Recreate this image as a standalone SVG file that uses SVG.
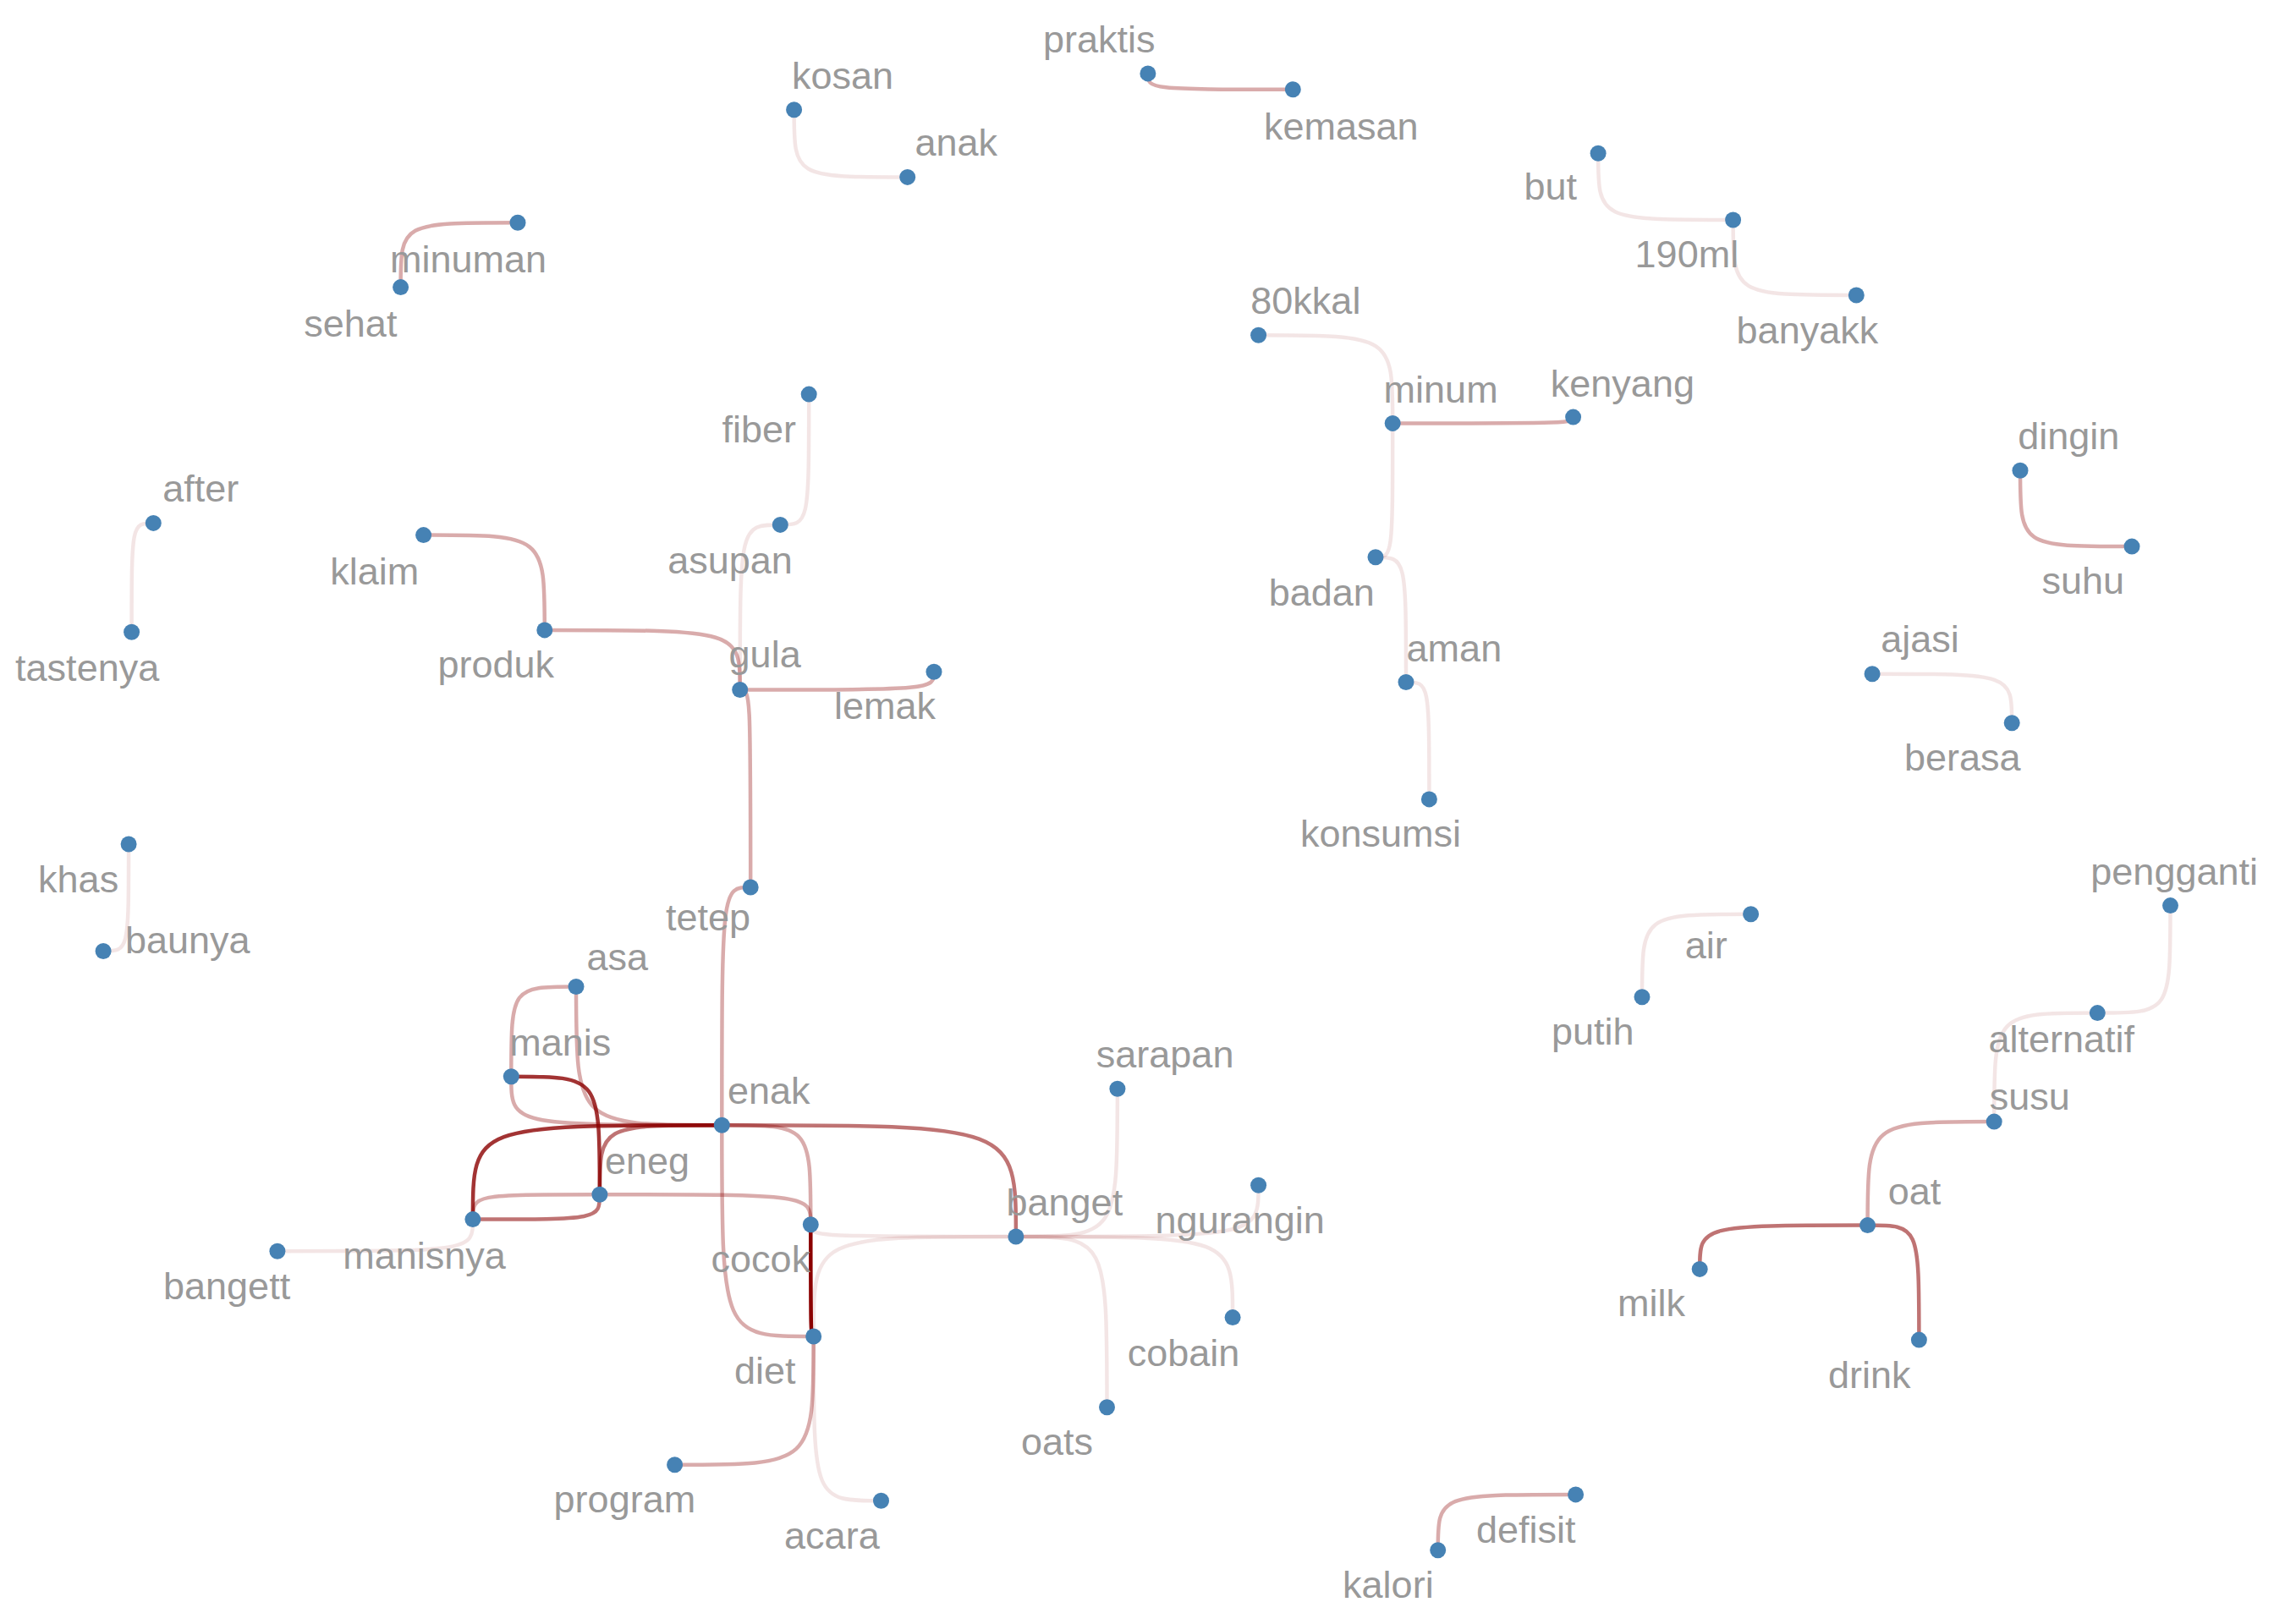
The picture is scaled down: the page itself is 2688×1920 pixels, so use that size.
<svg xmlns="http://www.w3.org/2000/svg" width="2688" height="1920" viewBox="0 0 2688 1920">
<style>
.e{fill:none;stroke:#8b0000;stroke-width:4.5;stroke-linecap:round}
.e1{stroke-opacity:0.1}
.e2{stroke-opacity:0.33}
.e3{stroke-opacity:0.55}
.e4{stroke-opacity:0.8}
.e5{stroke-opacity:1}
.n circle{fill:#4682b4}
.n text{font-family:"Liberation Sans",Arial,Helvetica,sans-serif;font-size:45px;fill:#999999}
</style>
<rect width="2688" height="1920" fill="#ffffff"/>
<g id="edges">
<path class="e e1" d="M938.6 129.8 C938.6 209.4 938.6 209.4 1072.7 209.4"/>
<path class="e e1" d="M1889.1 181.2 C1889.1 260 1889.1 260 2048.6 260"/>
<path class="e e1" d="M2048.6 260 C2048.6 349 2048.6 349 2194.3 349"/>
<path class="e e1" d="M1646.2 500.4 C1646.2 396.3 1646.2 396.3 1487.6 396.3"/>
<path class="e e1" d="M1646.2 500.4 C1646.2 658.8 1646.2 658.8 1626 658.8"/>
<path class="e e1" d="M1662 806.5 C1662 658.8 1662 658.8 1626 658.8"/>
<path class="e e1" d="M1689.4 944.9 C1689.4 806.5 1689.4 806.5 1662 806.5"/>
<path class="e e1" d="M2378.2 854.7 C2378.2 796.7 2378.2 796.7 2213.1 796.7"/>
<path class="e e1" d="M155.6 747.3 C155.6 618.4 155.6 618.4 181.3 618.4"/>
<path class="e e1" d="M956.2 466.1 C956.2 620.4 956.2 620.4 922.3 620.4"/>
<path class="e e1" d="M874.7 815.5 C874.7 620.4 874.7 620.4 922.3 620.4"/>
<path class="e e1" d="M152.1 998 C152.1 1124.5 152.1 1124.5 122.1 1124.5"/>
<path class="e e1" d="M958.3 1447.8 C958.3 1462 958.3 1462 1200.9 1462"/>
<path class="e e1" d="M1457.1 1557.6 C1457.1 1462 1457.1 1462 1200.9 1462"/>
<path class="e e1" d="M1487.6 1401.2 C1487.6 1462 1487.6 1462 1200.9 1462"/>
<path class="e e1" d="M1320.9 1287.3 C1320.9 1462 1320.9 1462 1200.9 1462"/>
<path class="e e1" d="M1308.5 1663.7 C1308.5 1462 1308.5 1462 1200.9 1462"/>
<path class="e e1" d="M961.7 1580 C961.7 1462 961.7 1462 1200.9 1462"/>
<path class="e e1" d="M961.7 1580 C961.7 1774.3 961.7 1774.3 1041.5 1774.3"/>
<path class="e e1" d="M558.9 1441.6 C558.9 1479.2 558.9 1479.2 327.9 1479.2"/>
<path class="e e1" d="M1941 1178.8 C1941 1080.8 1941 1080.8 2069.6 1080.8"/>
<path class="e e1" d="M2565.5 1070.6 C2565.5 1197.6 2565.5 1197.6 2479.3 1197.6"/>
<path class="e e1" d="M2357.2 1326.1 C2357.2 1197.6 2357.2 1197.6 2479.3 1197.6"/>
<path class="e e2" d="M473.6 339.6 C473.6 263.3 473.6 263.3 612 263.3"/>
<path class="e e2" d="M1356.9 86.9 C1356.9 105.7 1356.9 105.7 1528.3 105.7"/>
<path class="e e2" d="M1859.6 493.1 C1859.6 500.4 1859.6 500.4 1646.2 500.4"/>
<path class="e e2" d="M2388 556.3 C2388 646.1 2388 646.1 2520 646.1"/>
<path class="e e2" d="M643.8 744.9 C643.8 632.6 643.8 632.6 500.6 632.6"/>
<path class="e e2" d="M874.7 815.5 C874.7 744.9 874.7 744.9 643.8 744.9"/>
<path class="e e2" d="M1104 794.3 C1104 815.5 1104 815.5 874.7 815.5"/>
<path class="e e2" d="M887.2 1049 C887.2 815.5 887.2 815.5 874.7 815.5"/>
<path class="e e2" d="M853.3 1330.2 C853.3 1049 853.3 1049 887.2 1049"/>
<path class="e e2" d="M853.3 1330.2 C853.3 1580 853.3 1580 961.7 1580"/>
<path class="e e2" d="M604.3 1272.7 C604.3 1166.5 604.3 1166.5 681 1166.5"/>
<path class="e e2" d="M681 1166.5 C681 1330.2 681 1330.2 853.3 1330.2"/>
<path class="e e2" d="M604.3 1272.7 C604.3 1330.2 604.3 1330.2 853.3 1330.2"/>
<path class="e e2" d="M958.3 1447.8 C958.3 1412.2 958.3 1412.2 708.9 1412.2"/>
<path class="e e2" d="M558.9 1441.6 C558.9 1412.2 558.9 1412.2 708.9 1412.2"/>
<path class="e e2" d="M958.3 1447.8 C958.3 1330.2 958.3 1330.2 853.3 1330.2"/>
<path class="e e2" d="M961.7 1580 C961.7 1731.8 961.7 1731.8 797.6 1731.8"/>
<path class="e e2" d="M1699.7 1832.7 C1699.7 1766.9 1699.7 1766.9 1862.6 1766.9"/>
<path class="e e2" d="M2207.6 1448.6 C2207.6 1326.1 2207.6 1326.1 2357.2 1326.1"/>
<path class="e e3" d="M708.9 1412.2 C708.9 1330.2 708.9 1330.2 853.3 1330.2"/>
<path class="e e3" d="M708.9 1412.2 C708.9 1441.6 708.9 1441.6 558.9 1441.6"/>
<path class="e e3" d="M1200.9 1462 C1200.9 1330.2 1200.9 1330.2 853.3 1330.2"/>
<path class="e e3" d="M2009.2 1500.4 C2009.2 1448.6 2009.2 1448.6 2207.6 1448.6"/>
<path class="e e3" d="M2268.4 1584.1 C2268.4 1448.6 2268.4 1448.6 2207.6 1448.6"/>
<path class="e e4" d="M708.9 1412.2 C708.9 1272.7 708.9 1272.7 604.3 1272.7"/>
<path class="e e4" d="M558.9 1441.6 C558.9 1330.2 558.9 1330.2 853.3 1330.2"/>
<path class="e e5" d="M958.3 1447.8 C958.3 1580 958.3 1580 961.7 1580"/>
</g>
<g id="nodes">
<g class="n" id="n-praktis"><circle cx="1356.9" cy="86.9" r="9.5"/><text x="1233" y="62.4">praktis</text></g>
<g class="n" id="n-kemasan"><circle cx="1528.3" cy="105.7" r="9.5"/><text x="1494" y="164.5">kemasan</text></g>
<g class="n" id="n-kosan"><circle cx="938.6" cy="129.8" r="9.5"/><text x="936" y="105.3">kosan</text></g>
<g class="n" id="n-anak"><circle cx="1072.7" cy="209.4" r="9.5"/><text x="1081.5" y="183.7">anak</text></g>
<g class="n" id="n-but"><circle cx="1889.1" cy="181.2" r="9.5"/><text x="1801.5" y="235.9">but</text></g>
<g class="n" id="n-190ml"><circle cx="2048.6" cy="260" r="9.5"/><text x="1932.6" y="316.3">190ml</text></g>
<g class="n" id="n-banyakk"><circle cx="2194.3" cy="349" r="9.5"/><text x="2052.6" y="406">banyakk</text></g>
<g class="n" id="n-minuman"><circle cx="612" cy="263.3" r="9.5"/><text x="461" y="322.4">minuman</text></g>
<g class="n" id="n-sehat"><circle cx="473.6" cy="339.6" r="9.5"/><text x="359.3" y="398">sehat</text></g>
<g class="n" id="n-80kkal"><circle cx="1487.6" cy="396.3" r="9.5"/><text x="1478.3" y="371.4">80kkal</text></g>
<g class="n" id="n-minum"><circle cx="1646.2" cy="500.4" r="9.5"/><text x="1635.6" y="475.5">minum</text></g>
<g class="n" id="n-kenyang"><circle cx="1859.6" cy="493.1" r="9.5"/><text x="1832.8" y="468.6">kenyang</text></g>
<g class="n" id="n-fiber"><circle cx="956.2" cy="466.1" r="9.5"/><text x="853.4" y="523.3">fiber</text></g>
<g class="n" id="n-asupan"><circle cx="922.3" cy="620.4" r="9.5"/><text x="789.2" y="677.6">asupan</text></g>
<g class="n" id="n-dingin"><circle cx="2388" cy="556.3" r="9.5"/><text x="2385.2" y="531.4">dingin</text></g>
<g class="n" id="n-suhu"><circle cx="2520" cy="646.1" r="9.5"/><text x="2413.5" y="702">suhu</text></g>
<g class="n" id="n-after"><circle cx="181.3" cy="618.4" r="9.5"/><text x="192.2" y="592.7">after</text></g>
<g class="n" id="n-tastenya"><circle cx="155.6" cy="747.3" r="9.5"/><text x="18.1" y="804.5">tastenya</text></g>
<g class="n" id="n-klaim"><circle cx="500.6" cy="632.6" r="9.5"/><text x="390.2" y="691">klaim</text></g>
<g class="n" id="n-produk"><circle cx="643.8" cy="744.9" r="9.5"/><text x="517.5" y="801.2">produk</text></g>
<g class="n" id="n-gula"><circle cx="874.7" cy="815.5" r="9.5"/><text x="861.6" y="789">gula</text></g>
<g class="n" id="n-lemak"><circle cx="1104" cy="794.3" r="9.5"/><text x="985.9" y="850.2">lemak</text></g>
<g class="n" id="n-badan"><circle cx="1626" cy="658.8" r="9.5"/><text x="1499.7" y="716.3">badan</text></g>
<g class="n" id="n-aman"><circle cx="1662" cy="806.5" r="9.5"/><text x="1662.6" y="781.6">aman</text></g>
<g class="n" id="n-konsumsi"><circle cx="1689.4" cy="944.9" r="9.5"/><text x="1537" y="1001.2">konsumsi</text></g>
<g class="n" id="n-ajasi"><circle cx="2213.1" cy="796.7" r="9.5"/><text x="2223.2" y="770.6">ajasi</text></g>
<g class="n" id="n-berasa"><circle cx="2378.2" cy="854.7" r="9.5"/><text x="2251" y="911.4">berasa</text></g>
<g class="n" id="n-khas"><circle cx="152.1" cy="998" r="9.5"/><text x="45.1" y="1055.1">khas</text></g>
<g class="n" id="n-baunya"><circle cx="122.1" cy="1124.5" r="9.5"/><text x="148" y="1126.9">baunya</text></g>
<g class="n" id="n-tetep"><circle cx="887.2" cy="1049" r="9.5"/><text x="787" y="1100.4">tetep</text></g>
<g class="n" id="n-asa"><circle cx="681" cy="1166.5" r="9.5"/><text x="693.6" y="1147.3">asa</text></g>
<g class="n" id="n-manis"><circle cx="604.3" cy="1272.7" r="9.5"/><text x="602.3" y="1248.2">manis</text></g>
<g class="n" id="n-enak"><circle cx="853.3" cy="1330.2" r="9.5"/><text x="859.9" y="1305.3">enak</text></g>
<g class="n" id="n-eneg"><circle cx="708.9" cy="1412.2" r="9.5"/><text x="715" y="1388.2">eneg</text></g>
<g class="n" id="n-manisnya"><circle cx="558.9" cy="1441.6" r="9.5"/><text x="405.2" y="1499.6">manisnya</text></g>
<g class="n" id="n-bangett"><circle cx="327.9" cy="1479.2" r="9.5"/><text x="193" y="1536.3">bangett</text></g>
<g class="n" id="n-cocok"><circle cx="958.3" cy="1447.8" r="9.5"/><text x="840.6" y="1503.7">cocok</text></g>
<g class="n" id="n-banget"><circle cx="1200.9" cy="1462" r="9.5"/><text x="1189.5" y="1437.1">banget</text></g>
<g class="n" id="n-sarapan"><circle cx="1320.9" cy="1287.3" r="9.5"/><text x="1295.8" y="1262.4">sarapan</text></g>
<g class="n" id="n-ngurangin"><circle cx="1487.6" cy="1401.2" r="9.5"/><text x="1365.6" y="1458.4">ngurangin</text></g>
<g class="n" id="n-diet"><circle cx="961.7" cy="1580" r="9.5"/><text x="868" y="1636.3">diet</text></g>
<g class="n" id="n-cobain"><circle cx="1457.1" cy="1557.6" r="9.5"/><text x="1332.7" y="1614.7">cobain</text></g>
<g class="n" id="n-oats"><circle cx="1308.5" cy="1663.7" r="9.5"/><text x="1207" y="1720">oats</text></g>
<g class="n" id="n-program"><circle cx="797.6" cy="1731.8" r="9.5"/><text x="654.6" y="1788.2">program</text></g>
<g class="n" id="n-acara"><circle cx="1041.5" cy="1774.3" r="9.5"/><text x="927.1" y="1831">acara</text></g>
<g class="n" id="n-kalori"><circle cx="1699.7" cy="1832.7" r="9.5"/><text x="1587.1" y="1889">kalori</text></g>
<g class="n" id="n-defisit"><circle cx="1862.6" cy="1766.9" r="9.5"/><text x="1744.9" y="1824">defisit</text></g>
<g class="n" id="n-air"><circle cx="2069.6" cy="1080.8" r="9.5"/><text x="1991.7" y="1133">air</text></g>
<g class="n" id="n-putih"><circle cx="1941" cy="1178.8" r="9.5"/><text x="1834" y="1235.1">putih</text></g>
<g class="n" id="n-pengganti"><circle cx="2565.5" cy="1070.6" r="9.5"/><text x="2471.3" y="1046">pengganti</text></g>
<g class="n" id="n-alternatif"><circle cx="2479.3" cy="1197.6" r="9.5"/><text x="2350.5" y="1244">alternatif</text></g>
<g class="n" id="n-susu"><circle cx="2357.2" cy="1326.1" r="9.5"/><text x="2351.7" y="1311.8">susu</text></g>
<g class="n" id="n-oat"><circle cx="2207.6" cy="1448.6" r="9.5"/><text x="2231.7" y="1424">oat</text></g>
<g class="n" id="n-milk"><circle cx="2009.2" cy="1500.4" r="9.5"/><text x="1912" y="1556.3">milk</text></g>
<g class="n" id="n-drink"><circle cx="2268.4" cy="1584.1" r="9.5"/><text x="2161" y="1641.2">drink</text></g>
</g>
</svg>
